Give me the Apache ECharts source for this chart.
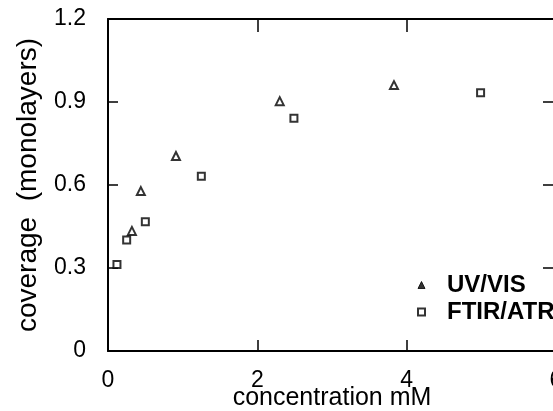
<!DOCTYPE html>
<html>
<head>
<meta charset="utf-8">
<script src="https://cdn.jsdelivr.net/npm/echarts@6/dist/echarts.min.js"></script>
<style>
  html, body { margin: 0; padding: 0; background: #fff; }
  #chart { width: 553px; height: 411px; }
</style>
</head>
<body>
<div id="chart"></div>
<script>
    // concentration (mM) vs coverage (monolayers)
    var uvvisConc = [0.32, 0.44, 0.91, 2.30, 3.83];
    var uvvisCov = [0.434, 0.578, 0.705, 0.903, 0.961];
    var ftirConc = [0.12, 0.25, 0.50, 1.25, 2.49, 4.99];
    var ftirCov = [0.313, 0.401, 0.467, 0.632, 0.841, 0.933];
    var xTicks = [0, 2, 4, 6];
    var yTicks = [0, 0.3, 0.6, 0.9, 1.2];

    function pairs(xs, ys) {
        var out = [];
        for (var i = 0; i < xs.length; i++) out.push([xs[i], ys[i]]);
        return out;
    }

    var font = '"Liberation Sans", Arial, Helvetica, sans-serif';
    var line = { show: true, onZero: false, lineStyle: { color: '#000', width: 2 } };

    var chart = echarts.init(document.getElementById('chart'));
    chart.setOption({
        animation: false,
        backgroundColor: '#fff',
        grid: { left: 108, top: 19, width: 448, height: 332, outerBoundsMode: 'none', containLabel: false },
        legend: {
            orient: 'vertical',
            left: 417,
            top: 273,
            padding: 0,
            itemWidth: 7,
            itemHeight: 7,
            itemGap: 3,
            textStyle: { fontFamily: font, fontSize: 24, fontWeight: 'bold', color: '#000', padding: [0, 0, 0, 17] },
            data: [
                { name: 'UV/VIS', icon: 'triangle', itemStyle: { color: '#000', borderColor: '#000', borderWidth: 1 } },
                { name: 'FTIR/ATR', icon: 'rect', itemStyle: { color: '#fff', borderColor: '#000', borderWidth: 2 } }
            ]
        },
        xAxis: [{
            type: 'value', min: xTicks[0], max: xTicks[xTicks.length - 1], interval: 2,
            position: 'bottom',
            axisLine: line,
            axisTick: { show: true, inside: true, length: 11, lineStyle: { color: '#000', width: 1.5 } },
            axisLabel: { fontFamily: font, fontSize: 23, color: '#000', margin: 18 },
            splitLine: { show: false },
            name: 'concentration mM', nameLocation: 'middle', nameGap: 35, nameMoveOverlap: false,
            nameTextStyle: { fontFamily: font, fontSize: 25, color: '#000' }
        }, {
            type: 'value', min: xTicks[0], max: xTicks[xTicks.length - 1], interval: 2,
            position: 'top',
            axisLine: line,
            axisTick: { show: true, inside: true, length: 13, lineStyle: { color: '#000', width: 1.5 } },
            axisLabel: { show: false },
            splitLine: { show: false }
        }],
        yAxis: [{
            type: 'value', min: yTicks[0], max: yTicks[yTicks.length - 1], interval: 0.3,
            position: 'left',
            axisLine: line,
            axisTick: { show: true, inside: true, length: 10, lineStyle: { color: '#000', width: 1.5 } },
            axisLabel: {
                fontFamily: font, fontSize: 23, color: '#000', margin: 22,
                formatter: function (v) { return v === 0 ? '0' : v.toFixed(1); }
            },
            splitLine: { show: false },
            name: 'coverage  (monolayers)', nameLocation: 'middle', nameGap: 66, nameMoveOverlap: false,
            nameTextStyle: { fontFamily: font, fontSize: 28, color: '#000' }
        }, {
            type: 'value', min: yTicks[0], max: yTicks[yTicks.length - 1], interval: 0.3,
            position: 'right',
            axisLine: line,
            axisTick: { show: true, inside: true, length: 13, lineStyle: { color: '#000', width: 1.5 } },
            axisLabel: { show: false },
            splitLine: { show: false }
        }],
        series: [{
            name: 'UV/VIS',
            type: 'scatter',
            symbol: 'triangle',
            symbolSize: 8,
            itemStyle: { color: '#fff', borderColor: '#000', borderWidth: 2 },
            data: pairs(uvvisConc, uvvisCov)
        }, {
            name: 'FTIR/ATR',
            type: 'scatter',
            symbol: 'rect',
            symbolSize: 7,
            itemStyle: { color: '#fff', borderColor: '#000', borderWidth: 2 },
            data: pairs(ftirConc, ftirCov)
        }]
    });
</script>
</body>
</html>
